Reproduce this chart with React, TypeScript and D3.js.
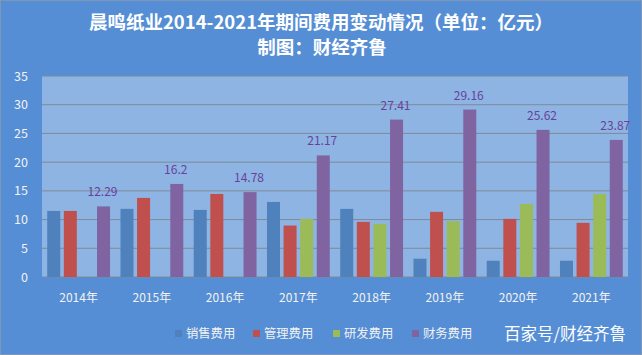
import React from "react";
import * as d3 from "d3";

const categories = ["2014年", "2015年", "2016年", "2017年", "2018年", "2019年", "2020年", "2021年"];
const seriesNames = ["销售费用", "管理费用", "研发费用", "财务费用"];
const sales = [11.5, 11.86, 11.68, 13.07, 11.86, 3.18, 2.83, 2.83];
const admin = [11.5, 13.77, 14.46, 8.96, 9.6, 11.34, 10.12, 9.43];
const rnd: (number | null)[] = [null, null, null, 10.12, 9.25, 9.72, 12.72, 14.46];
const finance = [12.29, 16.2, 14.78, 21.17, 27.41, 29.16, 25.62, 23.87];
const yTicks = [0, 5, 10, 15, 20, 25, 30, 35];
const colors = ["#4F81BD", "#C0504D", "#9BBB59", "#8064A2"];

const W = 642, H = 355;
const plot = { left: 42, right: 628, top: 76, bottom: 277 };
const font = "'Noto Sans CJK SC', 'Noto Sans', sans-serif";

export default function App() {
  const series = [sales, admin, rnd, finance];
  const x0 = d3.scaleBand<string>().domain(categories).range([plot.left, plot.right]).paddingInner(0).paddingOuter(0);
  const y = d3.scaleLinear().domain([0, 35]).range([plot.bottom, plot.top]);
  const catW = x0.bandwidth();
  const step = catW * 16.6 / 73.25;
  const barW = catW * 13 / 73.25;
  const offset = (catW - (3 * step + barW)) / 2;

  return (
    <svg width={W} height={H} style={{ position: "absolute", left: 0, top: 0 }} xmlns="http://www.w3.org/2000/svg">
      <rect x={0} y={0} width={W} height={H} fill="#558ED5" stroke="#8C9AAE" strokeWidth={1.5} />
      <text x={321} y={29} textAnchor="middle" fill="#FFFFFF" fontFamily={font} fontWeight="bold" fontSize={18.5}>晨鸣纸业2014-2021年期间费用变动情况（单位：亿元）</text>
      <text x={322} y={54} textAnchor="middle" fill="#FFFFFF" fontFamily={font} fontWeight="bold" fontSize={18.5}>制图：财经齐鲁</text>
      <rect x={plot.left} y={plot.top} width={plot.right - plot.left} height={plot.bottom - plot.top} fill="#8DB4E2" />
      {yTicks.map((t) => (
        <g key={t}>
          <line x1={plot.left} x2={plot.right} y1={y(t)} y2={y(t)} stroke="#7F8A99" strokeWidth={1} />
          <text x={28} y={y(t) + 4.5} textAnchor="end" fill="#F2F2F2" fontFamily={font} fontSize={12.5}>{t}</text>
        </g>
      ))}
      {categories.map((c, i) => (
        <g key={c}>
          {series.map((s, j) => {
            const v = s[i];
            if (v == null) return null;
            const bx = (x0(c) as number) + offset + j * step;
            return <rect key={j} x={bx} y={y(v)} width={barW} height={y(0) - y(v)} fill={colors[j]} />;
          })}
          <text x={(x0(c) as number) + offset + 3 * step + barW / 2 - 1} y={y(finance[i]) - 10} textAnchor="middle" fill="#6A3FA0" fontFamily={font} fontSize={12}>{finance[i]}</text>
          <text x={(x0(c) as number) + catW / 2} y={302} textAnchor="middle" fill="#F2F2F2" fontFamily={font} fontSize={12}>{c}</text>
        </g>
      ))}
      {seriesNames.map((n, j) => {
        const lx = [175, 253, 333, 412][j];
        return (
          <g key={n}>
            <rect x={lx} y={330} width={7} height={7} fill={colors[j]} />
            <text x={lx + 11} y={338} fill="#F2F2F2" fontFamily={font} fontSize={12.3}>{n}</text>
          </g>
        );
      })}
      <text x={504} y={340} fill="#FFFFFF" fontFamily={font} fontSize={16.5}>百家号/财经齐鲁</text>
    </svg>
  );
}
